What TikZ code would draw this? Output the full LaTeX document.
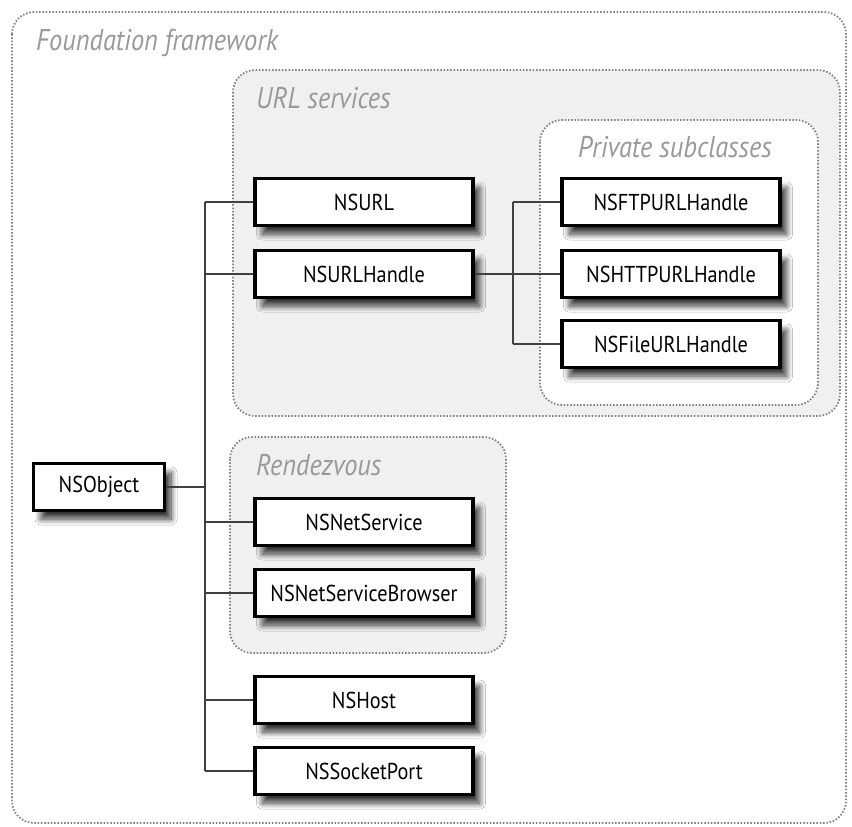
\documentclass[tikz,border=0pt]{standalone}
\usepackage{fontspec}
\setmainfont{PT Sans}[FakeStretch=0.88]
\usetikzlibrary{shadows.blur}
\tikzset{
  cls/.style={draw, line width=2.4pt, fill=white, minimum width=217pt, minimum height=46pt, inner sep=0pt,
    font=\fontsize{23}{26}\selectfont,
    blur shadow={shadow xshift=7pt, shadow yshift=-9pt, shadow blur radius=6pt, shadow blur steps=12, shadow opacity=80}},
  grp/.style={draw=black!50, line width=1.8pt, dash pattern=on 1.5pt off 1.8pt, rounded corners=22pt},
  grplabel/.style={anchor=base west, text=black!40, inner sep=0pt, font=\itshape\fontsize{30}{34}\selectfont},
  link/.style={draw=black!75, line width=1.6pt}
}
\begin{document}
\begin{tikzpicture}[x=1pt,y=-1pt]
        \useasboundingbox (0,0) rectangle (852,827);
        % groups
        \draw[grp, fill=white]  (12,12) rectangle (846,823);
        \node[grplabel] (lfoundation) at (36,50) {Foundation framework};
        \draw[grp, fill=black!6]  (233,70) rectangle (840,416);
        \node[grplabel] (lurl) at (256,108) {URL services};
        \draw[grp, fill=white]  (540,120) rectangle (818,405);
        \node[grplabel] (lprivate) at (578,157) {Private subclasses};
        \draw[grp, fill=black!6]  (230,437) rectangle (506,653);
        \node[grplabel] (lrendezvous) at (256,475) {Rendezvous};
        % classes
        \node[cls, minimum width=130pt] (nsobject) at (99,487) {NSObject};
        \node[cls] (nsurl) at (364,202) {NSURL};
        \node[cls] (nsurlhandle) at (364,274) {NSURLHandle};
        \node[cls] (nsnetservice) at (364,522) {NSNetService};
        \node[cls] (nsnetservicebrowser) at (364,593) {NSNetServiceBrowser};
        \node[cls] (nshost) at (364,700) {NSHost};
        \node[cls] (nssocketport) at (364,771) {NSSocketPort};
        \node[cls] (nsftpurlhandle) at (671,202) {NSFTPURLHandle};
        \node[cls] (nshttpurlhandle) at (671,274) {NSHTTPURLHandle};
        \node[cls] (nsfileurlhandle) at (671,344) {NSFileURLHandle};
        % links
        \coordinate (trunk) at (205,487);
        \coordinate (branch) at (513,274);
        \draw[link] (nsobject.east) -- (trunk);
        \draw[link] (trunk |- nsurl.west) -- (trunk |- nssocketport.west);
        \foreach \c in {nsurl,nsurlhandle,nsnetservice,nsnetservicebrowser,nshost,nssocketport}
          \draw[link] (trunk |- \c.west) -- (\c.west);
        \draw[link] (nsurlhandle.east) -- (nshttpurlhandle.west);
        \draw[link] (branch |- nsftpurlhandle.west) -- (branch |- nsfileurlhandle.west);
        \foreach \c in {nsftpurlhandle,nsfileurlhandle}
          \draw[link] (branch |- \c.west) -- (\c.west);
        % redraw classes over links
        \foreach \c in {nsobject,nsurl,nsurlhandle,nsnetservice,nsnetservicebrowser,nshost,nssocketport,nsftpurlhandle,nshttpurlhandle,nsfileurlhandle}
          \draw[line width=2.4pt] (\c.north west) rectangle (\c.south east);
\end{tikzpicture}
\end{document}
